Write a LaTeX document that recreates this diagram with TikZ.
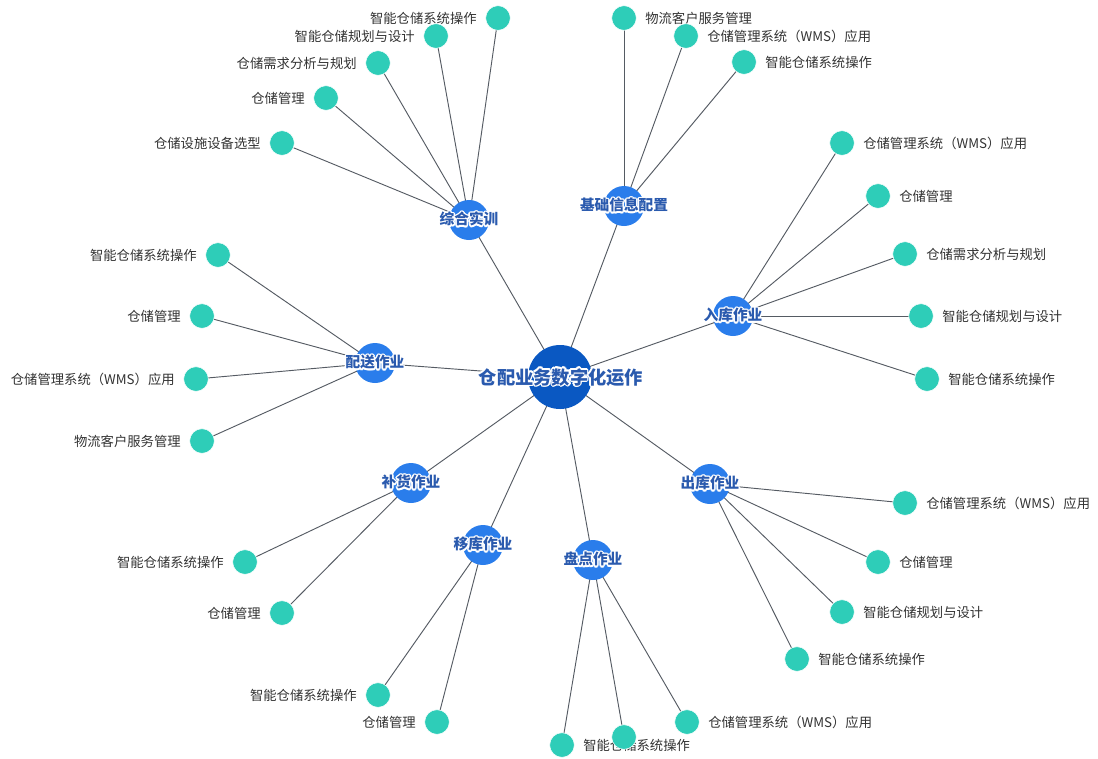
\documentclass[tikz,border=0pt]{standalone}
\usepackage{fontspec}
\setmainfont{Noto Sans CJK SC}
\usepackage{contour}
\usetikzlibrary{backgrounds}
\definecolor{hubblue}{HTML}{0A58C2}
\definecolor{catblue}{HTML}{2A7DEB}
\definecolor{leafteal}{HTML}{2ECDB8}
\definecolor{lbltext}{HTML}{333333}
\definecolor{cattext}{HTML}{2A5AAE}
\definecolor{edgegray}{HTML}{555B63}
\contourlength{1.1pt}
\contournumber{12}

\begin{document}
\begin{tikzpicture}[x=0.75pt, y=-0.75pt,
    hub/.style = {circle, fill=hubblue, minimum size=48pt, inner sep=0pt},
    cat/.style = {circle, fill=catblue, minimum size=30pt, inner sep=0pt},
    leaf/.style = {circle, fill=leafteal, draw=white, line width=0.4pt, minimum size=18.5pt, inner sep=0pt},
    lbl/.style = {font=\fontsize{10}{12}\selectfont, text=lbltext, label distance=3pt},
    catlbl/.style = {font=\fontsize{11}{13}\selectfont\bfseries, text=cattext},
    hublbl/.style = {font=\fontsize{13.7}{16}\selectfont\bfseries, text=cattext},
    link/.style = {draw=edgegray, line width=0.7pt}]
    \useasboundingbox (0,0) rectangle (1098,758);
    % hub
    \node[hub] (hub) at (560,377) {};
    \node[hublbl] (hubtxt) at (561,378) {\contour{white}{仓配业务数字化运作}};
    % categories
    \node[cat, label={[catlbl]center:\contour{white}{综合实训}}] (zh) at (469,220) {};
    \node[cat, label={[catlbl]center:\contour{white}{基础信息配置}}] (jc) at (624,206) {};
    \node[cat, label={[catlbl]center:\contour{white}{入库作业}}] (rk) at (733,316) {};
    \node[cat, label={[catlbl]center:\contour{white}{配送作业}}] (ps) at (375,363) {};
    \node[cat, label={[catlbl]center:\contour{white}{补货作业}}] (bh) at (411,483) {};
    \node[cat, label={[catlbl]center:\contour{white}{移库作业}}] (yk) at (483,545) {};
    \node[cat, label={[catlbl]center:\contour{white}{盘点作业}}] (pd) at (593,560) {};
    \node[cat, label={[catlbl]center:\contour{white}{出库作业}}] (ck) at (710,484) {};
    % 综合实训 leaves
    \node[leaf, label={[lbl]left:智能仓储系统操作}] (zh1) at (498,18) {};
    \node[leaf, label={[lbl]left:智能仓储规划与设计}] (zh2) at (436,36) {};
    \node[leaf, label={[lbl]left:仓储需求分析与规划}] (zh3) at (378,63) {};
    \node[leaf, label={[lbl]left:仓储管理}] (zh4) at (326,98) {};
    \node[leaf, label={[lbl]left:仓储设施设备选型}] (zh5) at (282,143) {};
    % 基础信息配置 leaves
    \node[leaf, label={[lbl]right:物流客户服务管理}] (jc1) at (624,18) {};
    \node[leaf, label={[lbl]right:仓储管理系统（WMS）应用}] (jc2) at (686,36) {};
    \node[leaf, label={[lbl]right:智能仓储系统操作}] (jc3) at (744,62) {};
    % 入库作业 leaves
    \node[leaf, label={[lbl]right:仓储管理系统（WMS）应用}] (rk1) at (842,143) {};
    \node[leaf, label={[lbl]right:仓储管理}] (rk2) at (878,196) {};
    \node[leaf, label={[lbl]right:仓储需求分析与规划}] (rk3) at (905,254) {};
    \node[leaf, label={[lbl]right:智能仓储规划与设计}] (rk4) at (921,316) {};
    \node[leaf, label={[lbl]right:智能仓储系统操作}] (rk5) at (927,379) {};
    % 配送作业 leaves
    \node[leaf, label={[lbl]left:智能仓储系统操作}] (ps1) at (218,255) {};
    \node[leaf, label={[lbl]left:仓储管理}] (ps2) at (202,316) {};
    \node[leaf, label={[lbl]left:仓储管理系统（WMS）应用}] (ps3) at (196,379) {};
    \node[leaf, label={[lbl]left:物流客户服务管理}] (ps4) at (202,441) {};
    % 补货作业 leaves
    \node[leaf, label={[lbl]left:智能仓储系统操作}] (bh1) at (245,562) {};
    \node[leaf, label={[lbl]left:仓储管理}] (bh2) at (282,613) {};
    % 移库作业 leaves
    \node[leaf, label={[lbl]left:智能仓储系统操作}] (yk1) at (378,695) {};
    \node[leaf, label={[lbl]left:仓储管理}] (yk2) at (437,722) {};
    % 盘点作业 leaves
    \node[leaf, label={[lbl]right:智能仓储系统操作}] (pd1) at (562,745) {};
    \node[leaf] (pd2) at (624,737) {};
    \node[leaf, label={[lbl]right:仓储管理系统（WMS）应用}] (pd3) at (687,722) {};
    % 出库作业 leaves
    \node[leaf, label={[lbl]right:仓储管理系统（WMS）应用}] (ck1) at (905,503) {};
    \node[leaf, label={[lbl]right:仓储管理}] (ck2) at (878,562) {};
    \node[leaf, label={[lbl]right:智能仓储规划与设计}] (ck3) at (842,612) {};
    \node[leaf, label={[lbl]right:智能仓储系统操作}] (ck4) at (797,659) {};
    % links
    \begin{scope}[on background layer]
    \path[link] (hub.center) -- (zh.center);
    \path[link] (hub.center) -- (jc.center);
    \path[link] (hub.center) -- (rk.center);
    \path[link] (hub.center) -- (ps.center);
    \path[link] (hub.center) -- (bh.center);
    \path[link] (hub.center) -- (yk.center);
    \path[link] (hub.center) -- (pd.center);
    \path[link] (hub.center) -- (ck.center);
    \path[link] (zh.center) -- (zh1.center);
    \path[link] (zh.center) -- (zh2.center);
    \path[link] (zh.center) -- (zh3.center);
    \path[link] (zh.center) -- (zh4.center);
    \path[link] (zh.center) -- (zh5.center);
    \path[link] (jc.center) -- (jc1.center);
    \path[link] (jc.center) -- (jc2.center);
    \path[link] (jc.center) -- (jc3.center);
    \path[link] (rk.center) -- (rk1.center);
    \path[link] (rk.center) -- (rk2.center);
    \path[link] (rk.center) -- (rk3.center);
    \path[link] (rk.center) -- (rk4.center);
    \path[link] (rk.center) -- (rk5.center);
    \path[link] (ps.center) -- (ps1.center);
    \path[link] (ps.center) -- (ps2.center);
    \path[link] (ps.center) -- (ps3.center);
    \path[link] (ps.center) -- (ps4.center);
    \path[link] (bh.center) -- (bh1.center);
    \path[link] (bh.center) -- (bh2.center);
    \path[link] (yk.center) -- (yk1.center);
    \path[link] (yk.center) -- (yk2.center);
    \path[link] (pd.center) -- (pd1.center);
    \path[link] (pd.center) -- (pd2.center);
    \path[link] (pd.center) -- (pd3.center);
    \path[link] (ck.center) -- (ck1.center);
    \path[link] (ck.center) -- (ck2.center);
    \path[link] (ck.center) -- (ck3.center);
    \path[link] (ck.center) -- (ck4.center);
    \end{scope}
\end{tikzpicture}
\end{document}
